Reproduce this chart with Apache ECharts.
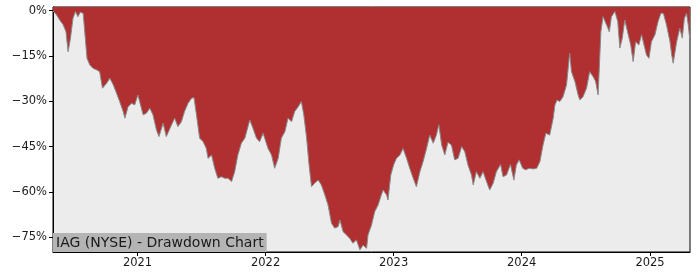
<!DOCTYPE html>
<html>
<head>
<meta charset="utf-8">
<script src="https://cdn.jsdelivr.net/npm/echarts@6/dist/echarts.min.js"></script>
<style>
html,body{margin:0;padding:0;background:#fff;}
#chart{width:700px;height:280px;}
</style>
</head>
<body>
<div id="chart"></div>
<script>
const dates = [
'2020-05-05','2020-05-15','2020-05-24','2020-06-03','2020-06-11','2020-06-17','2020-06-24','2020-07-01','2020-07-08','2020-07-15',
'2020-07-22','2020-07-30','2020-08-04','2020-08-10','2020-08-18','2020-08-27','2020-09-06','2020-09-15','2020-09-23','2020-10-05',
'2020-10-14','2020-10-24','2020-11-02','2020-11-11','2020-11-21','2020-11-26','2020-12-05','2020-12-15','2020-12-24','2021-01-02',
'2021-01-12','2021-01-17','2021-01-26','2021-02-05','2021-02-14','2021-02-24','2021-03-03','2021-03-15','2021-03-24','2021-04-08',
'2021-04-17','2021-04-26','2021-05-06','2021-05-15','2021-05-25','2021-06-04','2021-06-11','2021-06-18','2021-06-27','2021-07-07',
'2021-07-16','2021-07-21','2021-07-31','2021-08-09','2021-08-18','2021-08-28','2021-09-07','2021-09-16','2021-09-26','2021-10-05',
'2021-10-14','2021-10-24','2021-11-03','2021-11-17','2021-11-26','2021-12-06','2021-12-15','2021-12-25','2021-12-30','2022-01-08',
'2022-01-18','2022-01-27','2022-02-06','2022-02-15','2022-02-25','2022-03-06','2022-03-16','2022-03-25','2022-04-04','2022-04-13',
'2022-04-20','2022-04-28','2022-05-05','2022-05-12','2022-05-21','2022-05-31','2022-06-09','2022-06-19','2022-06-28','2022-07-08',
'2022-07-17','2022-07-27','2022-08-01','2022-08-10','2022-08-20','2022-08-29','2022-09-07','2022-09-17','2022-09-27','2022-10-06',
'2022-10-16','2022-10-20','2022-10-30','2022-11-08','2022-11-18','2022-11-27','2022-12-02','2022-12-12','2022-12-16','2022-12-24',
'2023-01-01','2023-01-09','2023-01-19','2023-01-28','2023-02-07','2023-02-16','2023-02-26','2023-03-07','2023-03-17','2023-03-26',
'2023-04-05','2023-04-14','2023-04-24','2023-05-03','2023-05-10','2023-05-18','2023-05-27','2023-06-05','2023-06-15','2023-06-24',
'2023-07-04','2023-07-14','2023-07-23','2023-08-01','2023-08-11','2023-08-16','2023-08-25','2023-09-04','2023-09-13','2023-09-23',
'2023-10-02','2023-10-12','2023-10-21','2023-11-02','2023-11-09','2023-11-19','2023-11-30','2023-12-10','2023-12-17','2023-12-25',
'2024-01-04','2024-01-13','2024-01-22','2024-02-03','2024-02-13','2024-02-22','2024-03-02','2024-03-10','2024-03-21','2024-03-31',
'2024-04-05','2024-04-11','2024-04-19','2024-04-28','2024-05-08','2024-05-17','2024-05-22','2024-06-01','2024-06-10','2024-06-15',
'2024-06-24','2024-07-04','2024-07-13','2024-07-23','2024-07-30','2024-08-06','2024-08-14','2024-08-20','2024-08-30','2024-09-07',
'2024-09-13','2024-09-23','2024-10-01','2024-10-07','2024-10-14','2024-10-21','2024-10-31','2024-11-07','2024-11-14','2024-11-21',
'2024-11-30','2024-12-08','2024-12-15','2024-12-22','2024-12-29','2025-01-05','2025-01-15','2025-01-24','2025-02-01','2025-02-08',
'2025-02-17','2025-02-27','2025-03-04','2025-03-08','2025-03-18','2025-03-27','2025-04-03','2025-04-09','2025-04-15','2025-04-20',
'2025-04-24'
];
const drawdown = [
-0.1,-1.4,-3.1,-4.7,-7.0,-13.6,-9.0,-2.5,-0.3,-2.0,
-0.5,-0.9,-1.4,-15.8,-18.0,-19.1,-19.6,-20.2,-25.7,-24.0,
-22.4,-24.6,-27.3,-30.1,-33.4,-35.6,-31.8,-30.7,-31.2,-27.9,
-32.3,-34.5,-34.0,-32.3,-34.5,-39.5,-41.7,-37.3,-41.7,-37.8,
-35.6,-38.4,-36.8,-33.4,-30.7,-29.0,-28.8,-34.5,-42.2,-43.4,
-45.6,-48.9,-47.8,-52.2,-55.5,-55.0,-55.5,-55.5,-56.6,-53.3,
-47.8,-43.9,-42.2,-36.2,-38.9,-42.2,-43.4,-40.6,-40.1,-45.6,
-47.8,-52.2,-48.9,-42.2,-40.1,-35.6,-36.8,-33.4,-31.8,-30.1,
-34.5,-42.2,-51.1,-58.3,-57.1,-56.1,-57.7,-61.0,-64.3,-70.4,
-72.0,-71.5,-69.3,-73.2,-74.3,-75.4,-77.0,-75.9,-79.2,-77.6,
-78.7,-74.3,-71.0,-66.6,-64.3,-61.0,-59.4,-61.0,-62.7,-54.4,
-51.1,-48.9,-47.8,-45.6,-48.9,-52.2,-55.5,-58.3,-53.3,-50.0,
-45.6,-41.2,-43.9,-41.2,-37.8,-44.5,-47.8,-43.6,-44.5,-49.4,
-48.9,-45.0,-46.7,-51.1,-54.4,-57.7,-53.3,-55.5,-53.3,-56.6,
-59.4,-57.1,-53.3,-50.9,-55.0,-54.4,-50.9,-56.1,-51.1,-49.4,
-52.2,-52.7,-52.2,-52.4,-52.2,-50.0,-44.5,-40.6,-41.2,-35.6,
-31.2,-29.6,-30.1,-28.5,-24.6,-14.1,-20.2,-23.5,-27.9,-29.6,
-28.5,-25.7,-20.2,-21.9,-23.5,-27.9,-7.0,-2.0,-4.7,-7.0,
-2.0,-0.3,-3.6,-12.4,-9.1,-3.1,-8.0,-11.4,-16.9,-10.3,
-11.4,-8.0,-11.4,-14.7,-15.8,-10.3,-8.0,-3.6,-0.9,-0.9,
-4.7,-10.3,-14.7,-17.4,-10.3,-5.8,-9.1,-2.5,-0.9,-4.7,
-9.1
];
const yTicks = [0, -15, -30, -45, -60, -75];
const xTickYears = ['2021', '2022', '2023', '2024', '2025'];
const xRange = ['2020-05-05', '2025-04-25'];
const titleText = 'IAG (NYSE) - Drawdown Chart';

const toTime = s => { const p = s.split('-').map(Number); return Date.UTC(p[0], (p[1] || 1) - 1, p[2] || 1); };
const chart = echarts.init(document.getElementById('chart'), null, {renderer: 'canvas'});
const seriesData = dates.map((d, i) => [toTime(d), drawdown[i]]);
const xTickValues = xTickYears.map(y => toTime(y + '-01-01'));
const font = 'DejaVu Sans';

chart.setOption({
  animation: false,
  backgroundColor: '#ffffff',
  title: {
    text: titleText,
    left: 53,
    top: 233,
    padding: [2, 3, 1, 3],
    backgroundColor: '#b4b4b4',
    textStyle: {fontFamily: font, fontSize: 14, fontWeight: 'normal', color: '#1a1a1a', lineHeight: 16}
  },
  grid: {
    left: 53, right: 10, top: 7, bottom: 28,
    show: true, backgroundColor: '#ececec', borderColor: '#000', borderWidth: 1
  },
  xAxis: {
    type: 'value',
    min: toTime(xRange[0]),
    max: toTime(xRange[1]),
    splitLine: {show: false},
    axisLine: {show: true, onZero: false, lineStyle: {color: '#000', width: 1}},
    axisTick: {show: true, length: 4, lineStyle: {color: '#000'}, customValues: xTickValues},
    axisLabel: {
      customValues: xTickValues,
      fontFamily: font, fontSize: 11.5, color: '#1a1a1a', margin: 5,
      formatter: v => String(new Date(v).getUTCFullYear())
    }
  },
  yAxis: {
    type: 'value',
    min: -79.9,
    max: 1.2,
    splitLine: {show: false},
    axisLine: {show: true, onZero: false, lineStyle: {color: '#000', width: 1}},
    axisTick: {show: true, length: 4, lineStyle: {color: '#000'}, customValues: yTicks},
    axisLabel: {
      customValues: yTicks,
      fontFamily: font, fontSize: 11.5, color: '#1a1a1a', margin: 6,
      formatter: v => (v === 0 ? '0%' : (v < 0 ? '\u2212' : '') + Math.abs(v) + '%')
    }
  },
  series: [{
    type: 'line',
    data: seriesData,
    showSymbol: false,
    symbol: 'none',
    lineStyle: {color: '#8a8a8a', width: 1},
    areaStyle: {color: '#b03031', opacity: 1, origin: 'end'},
    z: 2
  }]
});
</script>
</body>
</html>
